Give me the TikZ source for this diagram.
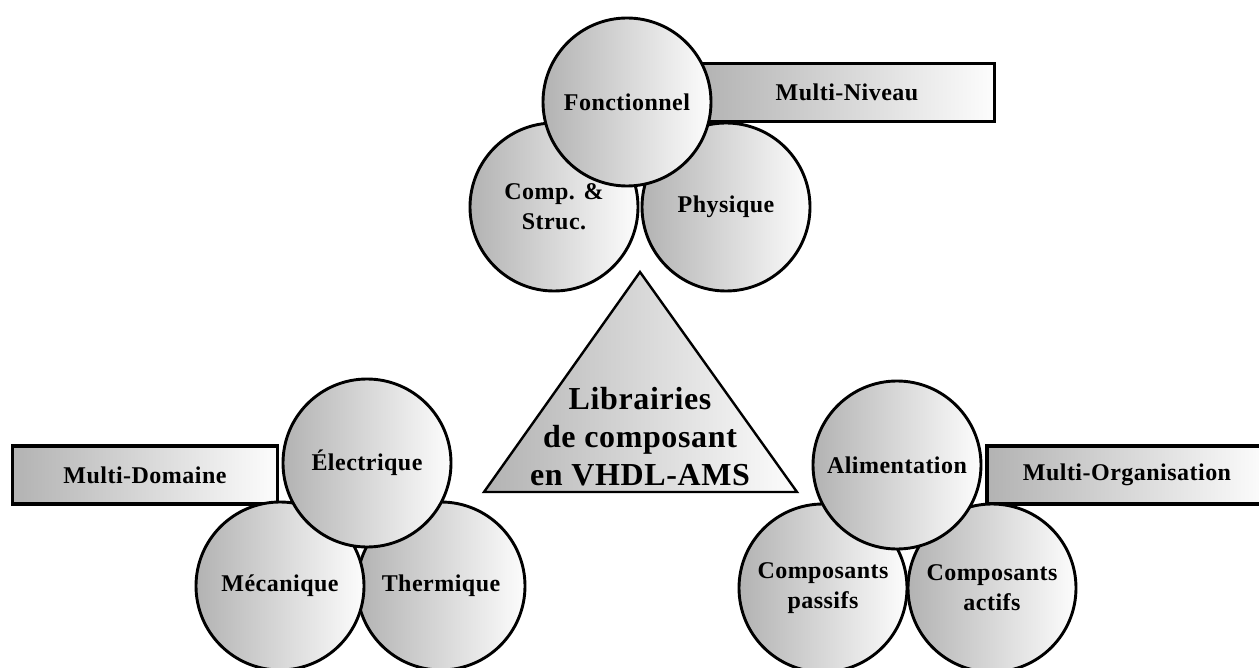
\documentclass[tikz,border=0pt]{standalone}
\usepackage{fontspec}
\newfontfamily\lblfont[LetterSpace=2]{Liberation Serif}
\definecolor{shadeL}{gray}{0.70}
\definecolor{shadeR}{gray}{0.99}
\begin{document}
\begin{tikzpicture}[x=1pt,y=-1pt,
  blob/.style={circle, draw=black, line width=2.9pt, left color=shadeL, right color=shadeR,
    minimum size=168pt, inner sep=0pt, align=center,
    font=\lblfont\bfseries\fontsize{24}{30}\selectfont},
  band/.style={rectangle, draw=black, line width=3.4pt, left color=shadeL, right color=shadeR,
    minimum height=58pt, inner sep=0pt,
    font=\lblfont\bfseries\fontsize{24}{30}\selectfont},
  core/.style={align=center, inner sep=0pt,
    font=\lblfont\bfseries\fontsize{32}{38}\selectfont}]
\clip (0,0) rectangle (1259,668);

% central triangle
\coordinate (apex) at (640,272);
\coordinate (bl) at (484,492);
\coordinate (br) at (797,492);
\draw[line width=2.4pt, left color=shadeL, right color=shadeR] (apex) -- (br) -- (bl) -- cycle;
\node[core] (lib) at (640,437) {Librairies\\de composant\\en VHDL-AMS};

% top cluster: abstraction levels
\node[band, minimum width=295pt] (niv) at (847,92.5) {Multi-Niveau};
\node[blob] (phys) at (726,207) {Physique};
\node[blob] (comp) at (554,207) {Comp. \&\\Struc.};
\node[blob] (fonc) at (627,102) {Fonctionnel};

% bottom left cluster: physical domains
\node[band, minimum width=265pt] (dom) at (145,475) {Multi-Domaine};
\node[blob] (therm) at (441,586) {Thermique};
\node[blob] (meca) at (280,586) {Mécanique};
\node[blob] (elec) at (367,463) {Électrique};

% bottom right cluster: organisation
\node[band, minimum width=280pt] (org) at (1127,475) {Multi-Organisation};
\node[blob] (actif) at (992,588) {Composants\\actifs};
\node[blob] (pass) at (823,588) {Composants\\passifs};
\node[blob] (alim) at (897,465) {Alimentation};
\end{tikzpicture}
\end{document}
